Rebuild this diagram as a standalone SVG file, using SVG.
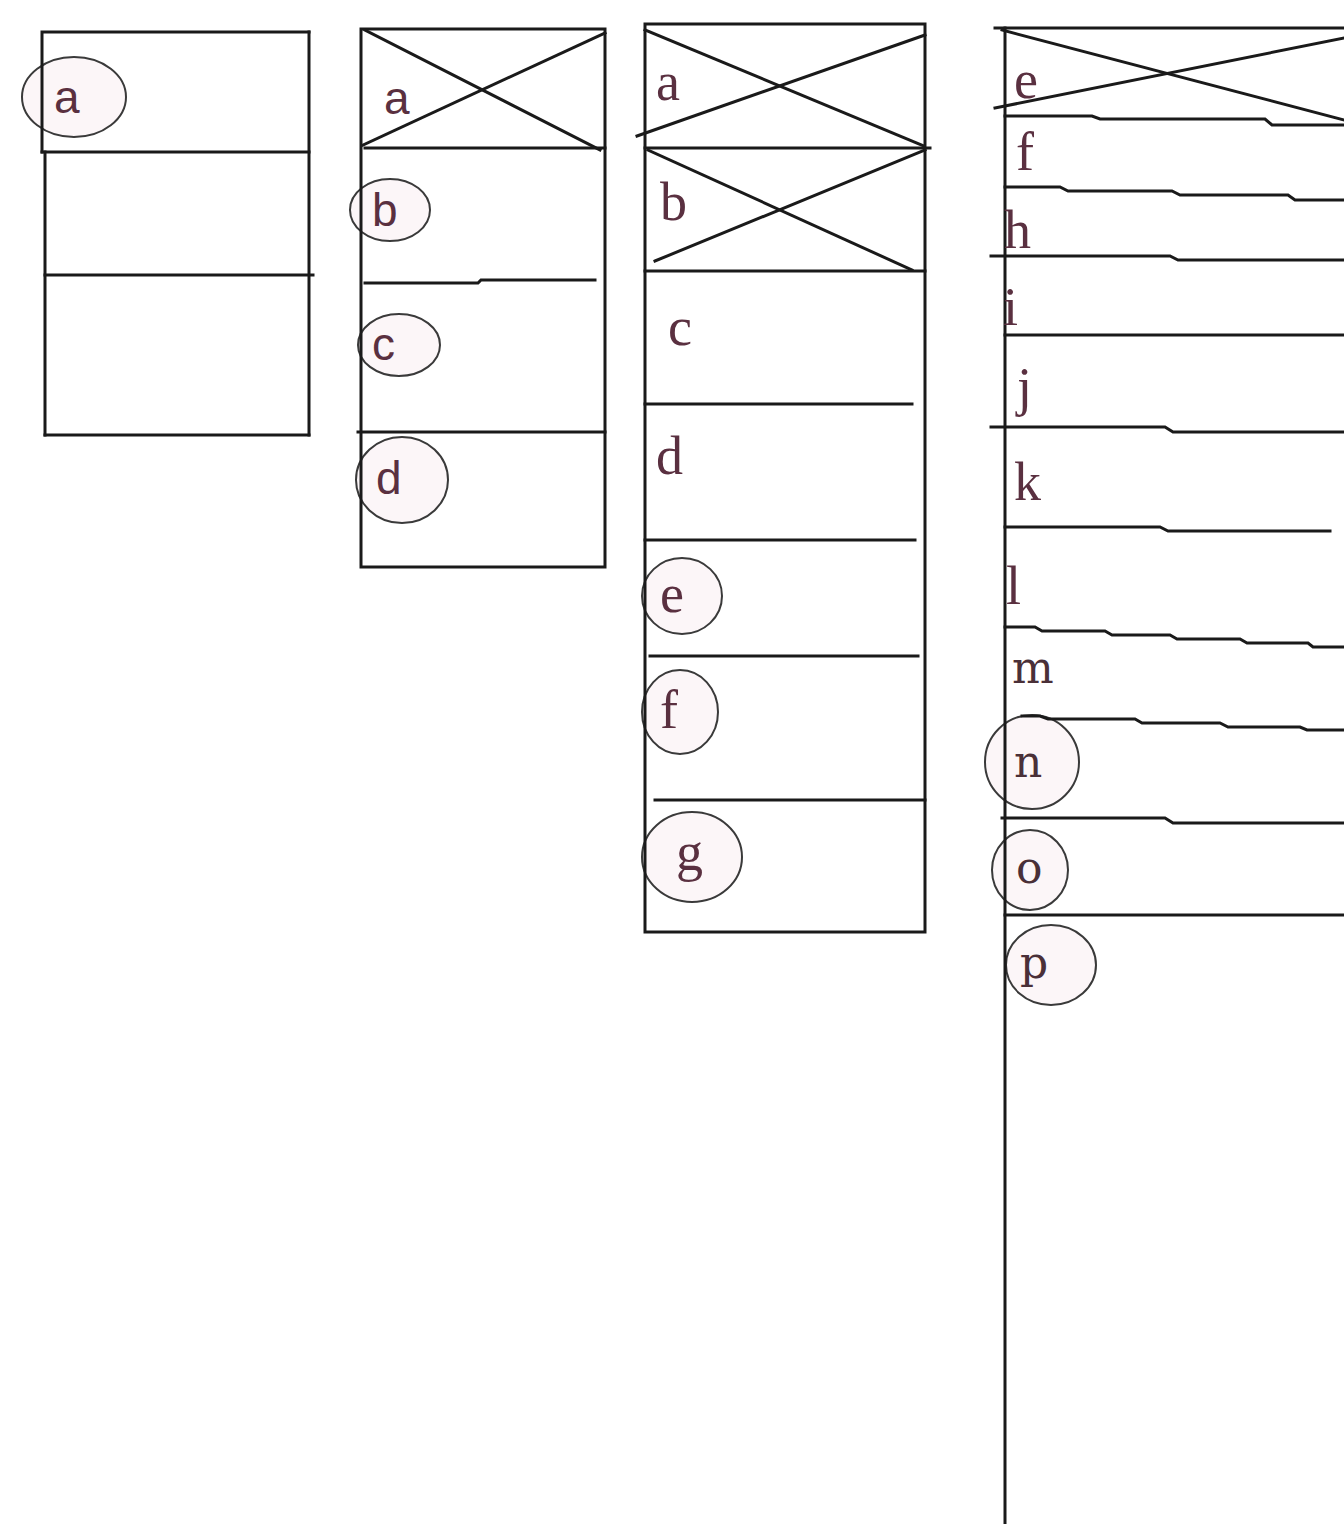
<svg xmlns="http://www.w3.org/2000/svg" width="1344" height="1524" viewBox="0 0 1344 1524">
<style>
.ln{stroke:#1a1a1a;stroke-width:3;fill:none;stroke-linecap:square}
.ring{stroke:#3a3a3a;stroke-width:2;fill:#f7e4ea;fill-opacity:0.35}
.lbl{font-family:"Liberation Serif",serif;font-size:54px;fill:#5a3040}
.sans{font-family:"Liberation Sans",sans-serif;font-size:46px;fill:#5a3040}
.mono{font-family:"DejaVu Serif",serif;font-size:44px;fill:#4a3038}
</style>
<rect width="1344" height="1524" fill="#ffffff"/>

<g id="col1">
<ellipse class="ring" cx="74" cy="97" rx="52" ry="40"/>
<polyline class="ln" points="309,32 42,32 42,152"/>
<line class="ln" x1="42" y1="152" x2="309" y2="152"/>
<line class="ln" x1="45" y1="152" x2="45" y2="435"/>
<line class="ln" x1="45" y1="275" x2="313" y2="275"/>
<line class="ln" x1="45" y1="435" x2="309" y2="435"/>
<line class="ln" x1="309" y1="32" x2="309" y2="435"/>
<text class="sans" x="54" y="113">a</text>
</g>

<g id="col2">
<ellipse class="ring" cx="390" cy="210" rx="40" ry="31"/>
<ellipse class="ring" cx="399" cy="345" rx="41" ry="31"/>
<ellipse class="ring" cx="402" cy="480" rx="46" ry="43"/>
<rect class="ln" x="361" y="29" width="244" height="538"/>
<line class="ln" x1="365" y1="30" x2="600" y2="150"/>
<line class="ln" x1="363" y1="145" x2="605" y2="33"/>
<line class="ln" x1="365" y1="148" x2="605" y2="148"/>
<polyline class="ln" points="365,283 478,283 481,280 595,280"/>
<line class="ln" x1="358" y1="432" x2="605" y2="432"/>
<text class="sans" x="384" y="114">a</text>
<text class="sans" x="372" y="226">b</text>
<text class="sans" x="372" y="360">c</text>
<text class="sans" x="376" y="494">d</text>
</g>

<g id="col3">
<ellipse class="ring" cx="682" cy="596" rx="40" ry="38"/>
<ellipse class="ring" cx="680" cy="712" rx="38" ry="42"/>
<ellipse class="ring" cx="692" cy="857" rx="50" ry="45"/>
<rect class="ln" x="645" y="24" width="280" height="908"/>
<line class="ln" x1="645" y1="30" x2="924" y2="146"/>
<line class="ln" x1="637" y1="136" x2="925" y2="35"/>
<line class="ln" x1="645" y1="148" x2="930" y2="148"/>
<line class="ln" x1="648" y1="150" x2="912" y2="270"/>
<line class="ln" x1="655" y1="261" x2="925" y2="150"/>
<line class="ln" x1="645" y1="271" x2="925" y2="271"/>
<line class="ln" x1="645" y1="404" x2="912" y2="404"/>
<line class="ln" x1="645" y1="540" x2="915" y2="540"/>
<line class="ln" x1="650" y1="656" x2="918" y2="656"/>
<line class="ln" x1="655" y1="800" x2="925" y2="800"/>
<text class="lbl" x="656" y="100">a</text>
<text class="lbl" x="660" y="220">b</text>
<text class="lbl" x="668" y="345">c</text>
<text class="lbl" x="656" y="474">d</text>
<text class="lbl" x="660" y="612">e</text>
<text class="lbl" x="660" y="728">f</text>
<text class="lbl" x="676" y="870">g</text>
</g>

<g id="col4">
<ellipse class="ring" cx="1032" cy="762" rx="47" ry="47"/>
<ellipse class="ring" cx="1030" cy="870" rx="38" ry="40"/>
<ellipse class="ring" cx="1051" cy="965" rx="45" ry="40"/>
<line class="ln" x1="1005" y1="28" x2="1005" y2="1524"/>
<line class="ln" x1="995" y1="28" x2="1344" y2="28"/>
<line class="ln" x1="1002" y1="30" x2="1344" y2="120"/>
<line class="ln" x1="995" y1="108" x2="1344" y2="38"/>
<polyline class="ln" points="1005,116 1092,116 1100,119 1265,119 1272,125 1344,125"/>
<polyline class="ln" points="1005,187 1060,187 1068,191 1172,191 1180,195 1288,195 1295,200 1344,200"/>
<polyline class="ln" points="991,256 1170,256 1178,260 1344,260"/>
<line class="ln" x1="1005" y1="335" x2="1344" y2="335"/>
<polyline class="ln" points="991,427 1165,427 1173,432 1344,432"/>
<polyline class="ln" points="1005,527 1160,527 1168,531 1330,531"/>
<polyline class="ln" points="1005,627 1035,627 1042,631 1105,631 1112,635 1170,635 1177,639 1240,639 1247,643 1308,643 1313,647 1344,647"/>
<polyline class="ln" points="1022,716 1040,716 1048,719 1135,719 1142,723 1220,723 1228,727 1300,727 1307,730 1344,730"/>
<polyline class="ln" points="1002,818 1165,818 1173,823 1344,823"/>
<line class="ln" x1="1005" y1="915" x2="1344" y2="915"/>
<text class="lbl" x="1014" y="98">e</text>
<text class="lbl" x="1016" y="170">f</text>
<text class="lbl" x="1004" y="248">h</text>
<text class="lbl" x="1003" y="325">i</text>
<text class="lbl" x="1017" y="405">j</text>
<text class="lbl" x="1014" y="500">k</text>
<text class="lbl" x="1006" y="604">l</text>
<text class="mono" x="1012" y="683">m</text>
<text class="mono" x="1014" y="777">n</text>
<text class="mono" x="1016" y="883">o</text>
<text class="mono" x="1020" y="978">p</text>
</g>
</svg>
